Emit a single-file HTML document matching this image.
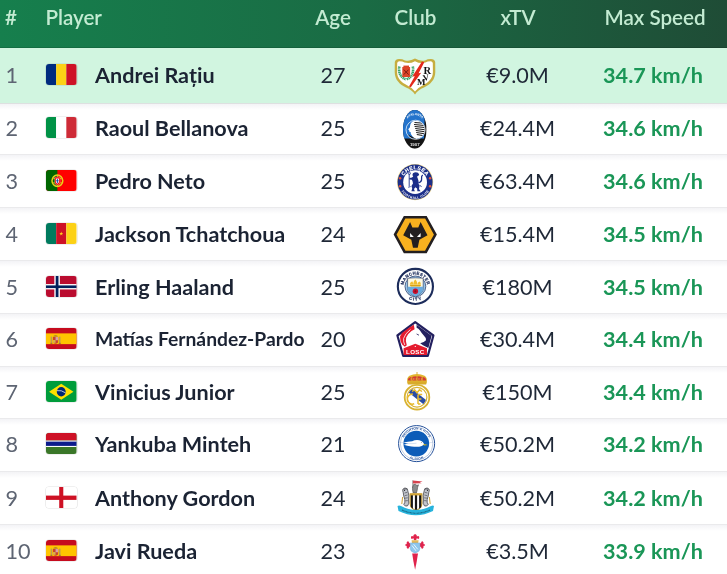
<!DOCTYPE html><html><head><meta charset="utf-8"><style>html,body{margin:0;padding:0;}
body{width:727px;height:574px;overflow:hidden;background:#fff;position:relative;font-family:"Lato","Liberation Sans",sans-serif;}
.hdr{position:absolute;left:0;top:0;width:727px;height:48px;background:linear-gradient(90deg,#167f4d 0%,#1a6b44 50%,#1f4c36 100%);box-shadow:inset 0 -1px 0 rgba(0,0,0,.12);}
.h{position:absolute;top:-0.8px;line-height:36px;font-size:20.6px;font-weight:600;color:#c3ebd2;white-space:nowrap;}
.h-rank{left:5px;}
.h-player{left:45.4px;}
.h-age{left:333px;transform:translateX(-50%);}
.h-club{left:415.5px;transform:translateX(-50%);}
.h-xtv{left:518px;transform:translateX(-50%);}
.h-speed{left:655px;transform:translateX(-50%);}
.row{position:absolute;left:0;width:727px;height:54px;}
.hlbg{position:absolute;left:0;top:48px;width:727px;height:55px;background:#d1f5e0;}
.c{position:absolute;top:0;line-height:54px;font-size:21.6px;white-space:nowrap;color:#1f2837;}
.rank{left:5.5px;color:#5e6573;}
.name{left:95px;font-weight:700;color:#1b2333;}
.name.small{font-size:19.3px;}
.age{left:333px;transform:translateX(-50%);}
.xtv{left:517.5px;transform:translateX(-50%);}
.speed{left:653px;transform:translateX(-50%);font-weight:700;color:#1a9657;}
.flag{position:absolute;left:46px;top:15.5px;width:30.5px;height:21.5px;border-radius:3px;overflow:hidden;box-shadow:0 0 0 0.6px rgba(0,0,0,.12);}
.flag svg{display:block;width:100%;height:100%;}
.logo{position:absolute;left:392px;top:5px;width:46px;height:44px;}
.logo svg{display:block;width:100%;height:100%;}
.sep{position:absolute;left:0;width:727px;height:1px;background:rgba(30,35,50,.095);}
.sepf{position:absolute;left:0;width:727px;height:6px;background:linear-gradient(rgba(40,40,90,.055),rgba(40,40,90,0));}
.lg{position:absolute;overflow:visible;}
.sep.s1{background:rgba(30,45,50,.15);}
#wrap{will-change:transform;position:absolute;left:0;top:0;width:727px;height:574px;overflow:hidden;background:#fff;}
</style></head><body><div id="wrap">
<div class="hlbg"></div>
<div class="hdr"><span class="h h-rank">#</span><span class="h h-player">Player</span><span class="h h-age">Age</span><span class="h h-club">Club</span><span class="h h-xtv">xTV</span><span class="h h-speed">Max Speed</span></div>
<div class="row hl" style="top:48.20px">
<span class="c rank">1</span>
<span class="flag"><svg viewBox="0 0 3 2" preserveAspectRatio="none"><rect width="1" height="2" fill="#002b7f"/><rect x="1" width="1" height="2" fill="#fcd116"/><rect x="2" width="1" height="2" fill="#ce1126"/></svg></span>
<span class="c name">Andrei Rațiu</span>
<span class="c age">27</span>
<span class="c xtv">€9.0M</span>
<span class="c speed">34.7 km/h</span>
</div>
<div class="sep s1" style="top:103px"></div><div class="sepf" style="top:104px"></div>
<div class="row" style="top:101.20px">
<span class="c rank">2</span>
<span class="flag"><svg viewBox="0 0 3 2" preserveAspectRatio="none"><rect width="1" height="2" fill="#009246"/><rect x="1" width="1" height="2" fill="#fff"/><rect x="2" width="1" height="2" fill="#ce2b37"/></svg></span>
<span class="c name">Raoul Bellanova</span>
<span class="c age">25</span>
<span class="c xtv">€24.4M</span>
<span class="c speed">34.6 km/h</span>
</div>
<div class="sep" style="top:154px"></div><div class="sepf" style="top:155px"></div>
<div class="row" style="top:154.20px">
<span class="c rank">3</span>
<span class="flag"><svg viewBox="0 0 30 20" preserveAspectRatio="none"><rect width="30" height="20" fill="#f00"/><rect width="11.2" height="20" fill="#060"/><circle cx="11.2" cy="10" r="5.3" fill="none" stroke="#e8d21a" stroke-width="1.5"/><path d="M6,8.4 Q11.2,6.4 16.4,8.4 M6,11.6 Q11.2,13.6 16.4,11.6 M11.2,4.7 L11.2,15.3" stroke="#e8d21a" stroke-width=".7" fill="none"/><path d="M8.6,6.6 L13.8,6.6 L13.8,11.2 Q13.8,13.8 11.2,14 Q8.6,13.8 8.6,11.2Z" fill="#e00" stroke="#fff" stroke-width=".3"/><path d="M9.7,7.8 L12.7,7.8 L12.7,11 Q12.7,12.6 11.2,12.8 Q9.7,12.6 9.7,11Z" fill="#fff"/><path d="M11.2,8.3 L11.2,12.2 M10,10 L12.4,10" stroke="#1a3fa8" stroke-width=".9"/></svg></span>
<span class="c name">Pedro Neto</span>
<span class="c age">25</span>
<span class="c xtv">€63.4M</span>
<span class="c speed">34.6 km/h</span>
</div>
<div class="sep" style="top:207px"></div><div class="sepf" style="top:208px"></div>
<div class="row" style="top:207.00px">
<span class="c rank">4</span>
<span class="flag"><svg viewBox="0 0 3 2" preserveAspectRatio="none"><rect width="1" height="2" fill="#007a5e"/><rect x="1" width="1" height="2" fill="#ce1126"/><rect x="2" width="1" height="2" fill="#fcd116"/><path d="M1.5,.8 L1.547,.935 L1.69,.938 L1.576,1.024 L1.618,1.162 L1.5,1.08 L1.382,1.162 L1.424,1.024 L1.31,.938 L1.453,.935Z" fill="#fcd116"/></svg></span>
<span class="c name">Jackson Tchatchoua</span>
<span class="c age">24</span>
<span class="c xtv">€15.4M</span>
<span class="c speed">34.5 km/h</span>
</div>
<div class="sep" style="top:260px"></div><div class="sepf" style="top:261px"></div>
<div class="row" style="top:260.30px">
<span class="c rank">5</span>
<span class="flag"><svg viewBox="0 0 22 16" preserveAspectRatio="none"><rect width="22" height="16" fill="#ba0c2f"/><rect x="6" width="4" height="16" fill="#fff"/><rect y="6" width="22" height="4" fill="#fff"/><rect x="7" width="2" height="16" fill="#00205b"/><rect y="7" width="22" height="2" fill="#00205b"/></svg></span>
<span class="c name">Erling Haaland</span>
<span class="c age">25</span>
<span class="c xtv">€180M</span>
<span class="c speed">34.5 km/h</span>
</div>
<div class="sep" style="top:313px"></div><div class="sepf" style="top:314px"></div>
<div class="row" style="top:312.40px">
<span class="c rank">6</span>
<span class="flag"><svg viewBox="0 0 30 20" preserveAspectRatio="none"><rect width="30" height="20" fill="#c60b1e"/><rect y="5" width="30" height="10" fill="#ffc400"/><path d="M7.2,7.4 Q9.4,5.6 11.6,7.4 L11.4,8.2 L7.4,8.2Z" fill="#b88a2a"/><path d="M6.8,8.4 L12,8.4 L12,12.2 Q12,14.6 9.4,14.6 Q6.8,14.6 6.8,12.2Z" fill="#c8452e"/><rect x="9.4" y="8.4" width="2.6" height="3" fill="#d9a0a8"/><rect x="6.8" y="11.2" width="2.6" height="2.6" fill="#d8b24a"/><rect x="4.6" y="8" width="1.4" height="6.4" fill="#b89a5a"/><rect x="12.8" y="8" width="1.4" height="6.4" fill="#b89a5a"/><rect x="4.3" y="13.8" width="2" height="0.9" fill="#9a6a2a"/><rect x="12.5" y="13.8" width="2" height="0.9" fill="#9a6a2a"/></svg></span>
<span class="c name small">Matías Fernández-Pardo</span>
<span class="c age">20</span>
<span class="c xtv">€30.4M</span>
<span class="c speed">34.4 km/h</span>
</div>
<div class="sep" style="top:366px"></div><div class="sepf" style="top:367px"></div>
<div class="row" style="top:365.30px">
<span class="c rank">7</span>
<span class="flag"><svg viewBox="0 0 30 20" preserveAspectRatio="none"><rect width="30" height="20" fill="#009c3b"/><path d="M15 2.5 L27 10 L15 17.5 L3 10Z" fill="#ffdf00"/><circle cx="15" cy="10" r="4.4" fill="#002776"/><path d="M10.8,9 Q15,8.2 19.2,11" stroke="#fff" stroke-width=".7" fill="none"/></svg></span>
<span class="c name">Vinicius Junior</span>
<span class="c age">25</span>
<span class="c xtv">€150M</span>
<span class="c speed">34.4 km/h</span>
</div>
<div class="sep" style="top:418px"></div><div class="sepf" style="top:419px"></div>
<div class="row" style="top:417.30px">
<span class="c rank">8</span>
<span class="flag"><svg viewBox="0 0 30 20" preserveAspectRatio="none"><rect width="30" height="20" fill="#3a7728"/><rect width="30" height="7" fill="#ce1126"/><rect y="7" width="30" height="6" fill="#fff"/><rect y="8" width="30" height="4" fill="#0c1c8c"/></svg></span>
<span class="c name">Yankuba Minteh</span>
<span class="c age">21</span>
<span class="c xtv">€50.2M</span>
<span class="c speed">34.2 km/h</span>
</div>
<div class="sep" style="top:471px"></div><div class="sepf" style="top:472px"></div>
<div class="row" style="top:471.20px">
<span class="c rank">9</span>
<span class="flag"><svg viewBox="0 0 30 20" preserveAspectRatio="none"><rect width="30" height="20" fill="#fff"/><rect x="13" width="4" height="20" fill="#ce1124"/><rect y="8" width="30" height="4" fill="#ce1124"/></svg></span>
<span class="c name">Anthony Gordon</span>
<span class="c age">24</span>
<span class="c xtv">€50.2M</span>
<span class="c speed">34.2 km/h</span>
</div>
<div class="sep" style="top:524px"></div><div class="sepf" style="top:525px"></div>
<div class="row" style="top:524.20px">
<span class="c rank">10</span>
<span class="flag"><svg viewBox="0 0 30 20" preserveAspectRatio="none"><rect width="30" height="20" fill="#c60b1e"/><rect y="5" width="30" height="10" fill="#ffc400"/><path d="M7.2,7.4 Q9.4,5.6 11.6,7.4 L11.4,8.2 L7.4,8.2Z" fill="#b88a2a"/><path d="M6.8,8.4 L12,8.4 L12,12.2 Q12,14.6 9.4,14.6 Q6.8,14.6 6.8,12.2Z" fill="#c8452e"/><rect x="9.4" y="8.4" width="2.6" height="3" fill="#d9a0a8"/><rect x="6.8" y="11.2" width="2.6" height="2.6" fill="#d8b24a"/><rect x="4.6" y="8" width="1.4" height="6.4" fill="#b89a5a"/><rect x="12.8" y="8" width="1.4" height="6.4" fill="#b89a5a"/><rect x="4.3" y="13.8" width="2" height="0.9" fill="#9a6a2a"/><rect x="12.5" y="13.8" width="2" height="0.9" fill="#9a6a2a"/></svg></span>
<span class="c name">Javi Rueda</span>
<span class="c age">23</span>
<span class="c xtv">€3.5M</span>
<span class="c speed">33.9 km/h</span>
</div>
<svg class="lg" style="left:394.0px;top:58.3px;width:42.0px;height:36.6px" viewBox="0 0 42.0 36.6">
<path d="M0.8,4 Q1.5,1.2 5,1 Q8.5,1 11,2.4 Q16,3.6 21,0.6 Q26,3.6 31,2.4 Q33.5,1 37,1 Q40.5,1.2 41.2,4 L41.3,14 C41.3,22 36,26.5 30,29.5 Q24,32 21,36.4 Q18,32 12,29.5 C6,26.5 0.7,22 0.7,14Z" fill="#c6ae40"/>
<path d="M3.2,5 Q3.6,3.4 5.4,3.3 Q8.5,3.3 10.6,4.6 Q16,6 21,3.2 Q26,6 31.4,4.6 Q33.5,3.3 36.6,3.3 Q38.4,3.4 38.8,5 L38.9,14 C38.9,20.5 34.5,24.5 29,27.2 Q23.6,29.8 21,33.4 Q18.4,29.8 13,27.2 C7.5,24.5 3.1,20.5 3.1,14Z" fill="#fff"/>
<path d="M5.4,8.5 C4.2,14.5 6.5,19.5 12.2,21.4 M18.8,8.5 C20,14.5 17.7,19.5 12.4,21.4" stroke="#3aa36a" stroke-width="2.6" fill="none" stroke-dasharray="1.3 0.45"/>
<rect x="8.3" y="9" width="7.8" height="10" fill="#dc4428"/>
<rect x="9.4" y="7.6" width="5.6" height="1.8" fill="#dc4428"/>
<path d="M9.8,11.6 L14.6,16.6 M14.6,11.6 L9.8,16.6" stroke="#6e1a10" stroke-width="0.9"/>
<path d="M28,3.6 L30.3,4.2 L24.6,15.2 L27.2,14.8 L16.8,29.2 L15,28.6 L20.8,18.2 L18.3,18.6Z" fill="#e4281c"/>
<text x="29.4" y="15.6" font-family="Liberation Serif,serif" font-weight="700" font-size="10.5" fill="#111">R</text>
<text x="28.6" y="22.6" font-family="Liberation Serif,serif" font-weight="700" font-size="8.6" fill="#111" transform="rotate(-12 31.5 19)">V</text>
<text x="23" y="27.4" font-family="Liberation Serif,serif" font-weight="700" font-size="9" fill="#111">M</text>
</svg>
<svg class="lg" style="left:403.0px;top:110.2px;width:23.6px;height:38.8px" viewBox="0 0 23.6 38.8">
<defs><clipPath id="atc"><ellipse cx="11.8" cy="19.4" rx="11.8" ry="19.4"/></clipPath><clipPath id="atc2"><circle cx="12.6" cy="19.8" r="9.2"/></clipPath>
<path id="attx" d="M3.2,12 A9.2,9.8 0 0 1 20.8,12"/></defs>
<g clip-path="url(#atc)">
<rect width="23.6" height="38.8" fill="#141414"/>
<path d="M0,0 L21,0 Q22.6,4 21.6,10 L21,28.4 L0,28.4Z" fill="#2474cc"/>
</g>
<text font-family="Liberation Sans,sans-serif" font-weight="700" font-size="3.1" fill="#fff"><textPath href="#attx" startOffset="50%" text-anchor="middle">ATALANTA</textPath></text>
<g clip-path="url(#atc2)">
<rect x="0" y="8" width="25" height="24" fill="#2474cc"/>
<path d="M9.2,11.6 Q14,9.5 19.5,11 L23,15 L23,31 L12,31 Q11.6,28.5 9.6,26.5 L8.2,24.6 Q7.4,23.4 8,22.4 L6.4,21.8 L6.2,20.6 L5.2,19.2 L6.8,17.4 Q6.8,14 9.2,11.6Z" fill="#fff"/>
<path d="M11.5,12.6 L21,13.2 M11,14.6 L21.6,15.4 M11.6,16.6 L22,17.6 M12.2,18.6 L22,19.8 M12.8,20.6 L22,21.8 M13.2,22.6 L21.6,23.8 M13.8,24.6 L21,25.8" stroke="#1b1b1b" stroke-width="1.05"/>
<path d="M4,24 Q9,26.8 16,30.4 L4,31Z" fill="#141414"/>
</g>
<circle cx="12.6" cy="19.8" r="9.6" fill="none" stroke="#fff" stroke-width="0.7"/>
<text x="11.8" y="35.6" text-anchor="middle" font-family="Liberation Sans,sans-serif" font-weight="700" font-size="4.4" fill="#e8e8e8">1907</text>
</svg>
<svg class="lg" style="left:396.5px;top:163.7px;width:36.2px;height:36.2px" viewBox="0 0 36.2 36.2">
<circle cx="18.1" cy="18.1" r="18.1" fill="#efd98e"/>
<circle cx="18.1" cy="18.1" r="17.5" fill="#1c2f89"/>
<circle cx="18.1" cy="18.2" r="11.9" fill="#fff"/>
<defs><path id="chtop" d="M5.4,18.1 A12.7,12.7 0 0 1 30.8,18.1"/><path id="chbot" d="M4.6,19 A13.5,13.5 0 0 0 31.6,19"/></defs>
<text font-family="Liberation Sans,sans-serif" font-weight="700" font-size="5.2" fill="#fff" stroke="#fff" stroke-width="0.15" letter-spacing="0.35"><textPath href="#chtop" startOffset="50%" text-anchor="middle">CHELSEA</textPath></text>
<text font-family="Liberation Sans,sans-serif" font-weight="700" font-size="3.3" fill="#fff"><textPath href="#chbot" startOffset="50%" text-anchor="middle" dominant-baseline="hanging">FOOTBALL CLUB</textPath></text>
<circle cx="3.1" cy="14.2" r="1.25" fill="#e2583f"/><circle cx="3.1" cy="22.2" r="1.25" fill="#e2583f"/>
<circle cx="33.1" cy="14.2" r="1.25" fill="#e2583f"/><circle cx="33.1" cy="22.2" r="1.25" fill="#e2583f"/>
<path d="M12.2,9.6 L12.2,22" stroke="#1c2f89" stroke-width="0.9"/>
<circle cx="12.4" cy="9.4" r="1.1" fill="none" stroke="#1c2f89" stroke-width="0.7"/>
<path d="M16,9.2 Q18.5,7.6 21,8.8 L22.2,10.4 L21.2,12 L20,12.4 L20.8,14.5 Q22,17 21.5,19.5 L22.5,22 L22,25 L23.6,27.3 L20.4,27.3 L20.1,24.6 L18.4,23.2 L17,25 L17.8,27.3 L14.4,27.3 L15.2,24.5 L14.4,22 L16,19.5 L15.5,17 L14.8,15.8 L12.4,15.6 L12.4,14.1 L15,13.6 L16.2,12.4 L15.4,11Z" fill="#1c2f89"/>
<path d="M21.4,18.8 Q25,18 24.6,14.2 Q24.2,11.8 25.8,11" stroke="#1c2f89" stroke-width="1.3" fill="none"/>
<path d="M13.6,22.6 L11.2,23.2 M22.4,21.2 L24.6,22.6" stroke="#1c2f89" stroke-width="0.9"/>
</svg>
<svg class="lg" style="left:393.7px;top:215.9px;width:42.5px;height:37.2px" viewBox="0 0 42.5 37.2">
<path d="M10.6,1.2 L31.9,1.2 L41.4,18.6 L31.9,36 L10.6,36 L1.1,18.6Z" fill="#f8b11f" stroke="#231f20" stroke-width="2.6" stroke-linejoin="miter"/>
<path d="M16.1,6.1 L18.4,11.6 L24.3,11.6 L26.6,6.1 L33.5,19.2 L25.4,23.8 L23.7,31.8 L19.0,31.8 L17.3,23.8 L9.2,19.2Z" fill="#231f20"/>
<path d="M16.0,16.9 L16.2,20.9 L19.8,20.9Z" fill="#fff"/>
<path d="M26.7,16.9 L26.5,20.9 L22.9,20.9Z" fill="#fff"/>
</svg>
<svg class="lg" style="left:396.8px;top:267.6px;width:36.8px;height:36.8px" viewBox="0 0 36.8 36.8">
<circle cx="18.4" cy="18.4" r="17.55" fill="#fff" stroke="#1c2c5b" stroke-width="2.1"/>
<circle cx="18.4" cy="18.4" r="10.4" fill="#9cc8ea" stroke="#1c2c5b" stroke-width="0.7"/>
<defs><path id="mctop" d="M6.7,18.4 A11.7,11.7 0 0 1 30.1,18.4"/><path id="mcbot" d="M7.2,18.4 A11.2,11.2 0 0 0 29.6,18.4"/></defs>
<text font-family="Liberation Sans,sans-serif" font-weight="700" font-size="4.3" fill="#1c2c5b" stroke="#1c2c5b" stroke-width="0.2" letter-spacing="0.35"><textPath href="#mctop" startOffset="50%" text-anchor="middle">MANCHESTER</textPath></text>
<text font-family="Liberation Sans,sans-serif" font-weight="700" font-size="4.3" fill="#1c2c5b" stroke="#1c2c5b" stroke-width="0.2" letter-spacing="0.4"><textPath href="#mcbot" startOffset="50%" text-anchor="middle" dominant-baseline="hanging">CITY</textPath></text>
<path d="M10.6,10.2 Q18.4,9.4 26.2,10.2 L26.2,20.5 Q26.2,25.5 18.4,28.4 Q10.6,25.5 10.6,20.5Z" fill="#fdfae6" stroke="#1c2c5b" stroke-width="0.6"/>
<path d="M10.6,18.8 L26.2,18.8 L26.2,20.5 Q26.2,25.5 18.4,28.4 Q10.6,25.5 10.6,20.5Z" fill="#6cabdd"/>
<path d="M12.6,17 L24.2,17 L23,18.4 L13.8,18.4Z" fill="#d9a514"/>
<path d="M12.8,16.8 Q12.6,14.2 15.2,13.2 Q16.2,14.6 16.4,16.8Z M16.4,16.8 Q16.2,12.6 18.6,11.4 Q20.2,13 20.2,16.8Z M20.2,16.8 Q20.4,14 22.8,13.6 Q24,15 23.8,16.8Z" fill="#f0bd30"/>
<circle cx="18.4" cy="23.2" r="2.7" fill="#c8102e"/>
<circle cx="18.4" cy="23.2" r="1" fill="#8a0b1e"/>
</svg>
<svg class="lg" style="left:396.1px;top:321.1px;width:38.8px;height:36.6px" viewBox="0 0 38.8 36.6">
<path d="M19.2,1.2 L37.4,14.5 L31.8,35 L7.2,35 L1.4,14.5Z" fill="#fff" stroke="#23205f" stroke-width="2.2" stroke-linejoin="round"/>
<path d="M17.8,3.8 Q12,7 6,12 L4,15.5 Q3.8,20 6.2,23.5 L8.8,25.8 L10.8,24.2 Q9.2,20.5 10.2,16.5 Q12,12.5 15.5,10 L18.6,8.2Z" fill="#e41b2e"/>
<path d="M14.5,8.5 Q9,12.5 7.6,17.5 Q7.2,21 8.8,24" stroke="#fff" stroke-width="0.8" fill="none"/>
<path d="M20.6,3.8 L35.6,14.8 L32.4,27 L27,24.2 L24.2,22.2 Q27.6,21.8 30,19.2 Q30,16.5 27.8,14.6 Q25.5,12 24,9.5 Q22.5,7.5 20.6,6.8Z" fill="#23205f"/>
<path d="M20.6,13 L23,14.2" stroke="#23205f" stroke-width="0.8"/>
<path d="M7.6,27.2 L19.3,22.8 L31,27.2 L31,34 L7.6,34Z" fill="#e41b2e"/>
<circle cx="19.3" cy="25.4" r="0.6" fill="#fff"/>
<text x="19.3" y="32.9" text-anchor="middle" font-family="Liberation Sans,sans-serif" font-weight="700" font-size="6.2" fill="#fff" letter-spacing="0.3">LOSC</text>
</svg>
<svg class="lg" style="left:403.0px;top:372.4px;width:28.0px;height:38.0px" viewBox="0 0 28.0 38.0">
<path d="M14,0 L14,2.2" stroke="#d4a32a" stroke-width="0.9"/>
<path d="M4.6,11.6 Q3,6 6.5,3.8 Q10,2 14,2 Q18,2 21.5,3.8 Q25,6 23.4,11.6Z" fill="#e2b52e"/>
<path d="M5,8.6 Q4.6,6 7.4,5.2 Q11,4.3 14,4.3 Q17,4.3 20.6,5.2 Q23.4,6 23,8.6Z" fill="#d23a34"/>
<path d="M7.5,7 L20.5,7" stroke="#f2c94a" stroke-width="1" stroke-dasharray="1.3 1.3"/>
<path d="M14,2.2 L14,9 M9,3.5 Q8.5,6 9,9 M19,3.5 Q19.5,6 19,9" stroke="#e2b52e" stroke-width="0.9" fill="none"/>
<path d="M4.4,9.6 L23.6,9.6 L23.2,12.4 L4.8,12.4Z" fill="#d9ab2a"/>
<circle cx="14" cy="25.2" r="12.9" fill="#fff"/>
<circle cx="14" cy="25.2" r="12.3" fill="none" stroke="#d8b232" stroke-width="1.8"/>
<circle cx="14" cy="25.2" r="9.9" fill="none" stroke="#d8b232" stroke-width="1.2"/>
<defs><clipPath id="rmc"><circle cx="14" cy="25.2" r="9.3"/></clipPath></defs>
<g clip-path="url(#rmc)"><path d="M3,18.5 L6.6,15 L27,31 L23.4,34.5Z" fill="#2a4ca4"/></g>
<path d="M9,19.5 L11.5,17.8 L14,20.8 L16.5,17.8 L19,19.5" stroke="#e8b92c" stroke-width="1.4" fill="none"/>
<path d="M9.8,22.2 A5,5 0 1 0 11.2,31.8" stroke="#e8b92c" stroke-width="1.6" fill="none"/>
<path d="M15,22.5 L15,32 M15,22.5 L19.2,22.5 M15,27 L18.4,27 M15,32 L17.5,32" stroke="#e8b92c" stroke-width="1.5" fill="none"/>
</svg>
<svg class="lg" style="left:397.8px;top:425.2px;width:37.2px;height:37.2px" viewBox="0 0 37.2 37.2">
<circle cx="18.6" cy="18.6" r="18.05" fill="#fff" stroke="#24509a" stroke-width="1"/>
<circle cx="18.6" cy="18.6" r="16.3" fill="none" stroke="#24509a" stroke-width="0.3"/>
<circle cx="18.3" cy="18.6" r="12.85" fill="#0d5cb8"/>
<defs><path id="bhtop" d="M4.6,18.6 A14,14 0 0 1 32.6,18.6"/><path id="bhbot" d="M4.8,18.6 A13.8,13.8 0 0 0 32.4,18.6"/></defs>
<text font-family="Liberation Sans,sans-serif" font-weight="700" font-size="3.2" fill="#24509a" letter-spacing="0.12"><textPath href="#bhtop" startOffset="50%" text-anchor="middle">BRIGHTON &amp; HOVE</textPath></text>
<text font-family="Liberation Sans,sans-serif" font-weight="700" font-size="3.2" fill="#24509a" letter-spacing="0.12"><textPath href="#bhbot" startOffset="50%" text-anchor="middle" dominant-baseline="hanging">ALBION</textPath></text>
<path d="M1.8,17.6 L5.6,17.6 M31.2,17.6 L35.4,17.6" stroke="#9fb6d8" stroke-width="0.4"/>
<path d="M5.5,17.4 Q10,16.6 14.2,16.2 Q16.5,15 19.1,15 Q21.5,15 23.3,15.9 Q25,16.8 25.7,18.3 L26.1,19.6 Q24,21.6 21.2,21.8 Q17,22 13.5,21.4 Q9,20.8 5.9,19.7 Q8.5,19 10.5,18.8 Q8,18.2 5.5,17.4Z" fill="#fff"/>
<path d="M9,18.6 Q14,18.9 18.5,18.2" stroke="#7fa6d9" stroke-width="0.35" fill="none"/>
<path d="M25.5,18.9 L30,20 L25.9,20.6Z" fill="#f2c500"/>
<circle cx="23.4" cy="17.4" r="0.4" fill="#333"/>
</svg>
<svg class="lg" style="left:397.0px;top:479.5px;width:37.0px;height:37.0px" viewBox="0 0 37.0 37.0">
<path d="M15.7,0.3 L15.7,8" stroke="#666" stroke-width="0.6"/>
<path d="M15.9,0.4 L25.6,1.6 L22.6,2.4 L24.8,3.2 L15.9,3.6Z" fill="#d6434e"/>
<path d="M16.6,4.5 Q19,3.6 19.8,5.4 L21.5,4.8 L20.6,7.5 Q20.4,10.5 19.4,13 L16.2,13 Q15.2,10 15.6,7Z" fill="#8b8b8b" stroke="#333" stroke-width="0.5"/>
<path d="M12.6,13.2 L25.4,13.2 L25.4,23.5 Q25.4,28.6 19,31 Q12.6,28.6 12.6,23.5Z" fill="#cfa235"/>
<path d="M13.8,14.4 L24.2,14.4 L24.2,23.4 Q24.2,27.8 19,29.8 Q13.8,27.8 13.8,23.4Z" fill="#fff"/>
<path d="M13.8,14.4 h2.1 v14.4 l-2.1,-1.8Z M17.9,14.4 h2.2 v15.4 h-2.2Z M22.1,14.4 h2.1 v12.8 l-2.1,1.6Z" fill="#151515"/>
<path d="M13.4,13.6 L24.6,13.6 L24.6,15.4 L13.4,15.4Z" fill="#cfa235"/>
<path d="M6.2,12.4 Q4.6,8.6 8,8 Q11,8 10.8,10.8 Q12.4,15 11.6,20 Q12.6,23.5 10.6,25.8 Q8.2,27 6.8,24.4 Q8.4,22.6 7.8,19.6 Q6.6,16 6.2,12.4Z" fill="#c2c5cc" stroke="#2f2f35" stroke-width="0.7"/>
<path d="M31.8,12.4 Q33.4,8.6 30,8 Q27,8 27.2,10.8 Q25.6,15 26.4,20 Q25.4,23.5 27.4,25.8 Q29.8,27 31.2,24.4 Q29.6,22.6 30.2,19.6 Q31.4,16 31.8,12.4Z" fill="#c2c5cc" stroke="#2f2f35" stroke-width="0.7"/>
<path d="M4.8,24 L5.6,17 M33.2,24 L32.4,17" stroke="#cfa235" stroke-width="1"/>
<path d="M6.4,9.6 Q8,8.4 9.8,9.4 M7.6,13 L10.2,12.4 M7.8,15.6 L10.6,15 M8,18.2 L10.8,17.8 M8.4,20.8 L10.8,20.6 M31.6,9.6 Q30,8.4 28.2,9.4 M30.4,13 L27.8,12.4 M30.2,15.6 L27.4,15 M30,18.2 L27.2,17.8 M29.6,20.8 L27.2,20.6" stroke="#2f2f35" stroke-width="0.55" fill="none"/>
<circle cx="7.6" cy="10.4" r="0.55" fill="#222"/><circle cx="30.4" cy="10.4" r="0.55" fill="#222"/>
<path d="M0.5,26 Q2,24.8 4,26 Q19,34 34,26 Q36,24.8 37,26 L36,31 Q19,39.5 1.5,31Z" fill="#27b3dc"/>
<path d="M5,30 Q19,36.5 33,30" stroke="#18607e" stroke-width="1.1" fill="none" stroke-dasharray="0.9 0.5"/>
</svg>
<svg class="lg" style="left:404.9px;top:533.5px;width:20.2px;height:36.0px" viewBox="0 0 20.2 36.0">
<path d="M10.1,0 Q12.2,0.6 11.9,2.6 Q13.4,1.4 14.2,2.8 Q14.8,4.6 13,5.2 Q12.6,4 11.6,4.4 L11.2,6.2 L9,6.2 L8.6,4.4 Q7.6,4 7.2,5.2 Q5.4,4.6 6,2.8 Q6.8,1.4 8.3,2.6 Q8,0.6 10.1,0Z" fill="#e0234c"/>
<path d="M0.2,11 Q0.6,9.8 1.8,10.2 Q1,8.4 2.4,7.4 Q3.6,7 4,8.6 L5.6,10 L5.6,12 L4,13.4 Q3.6,15 2.4,14.6 Q1,13.6 1.8,11.8 Q0.6,12.2 0.2,11Z" fill="#e0234c"/>
<path d="M20,11 Q19.6,9.8 18.4,10.2 Q19.2,8.4 17.8,7.4 Q16.6,7 16.2,8.6 L14.6,10 L14.6,12 L16.2,13.4 Q16.6,15 17.8,14.6 Q19.2,13.6 18.4,11.8 Q19.6,12.2 20,11Z" fill="#e0234c"/>
<path d="M6.6,6.2 L13.6,6.2 L13.2,8.9 L7,8.9Z" fill="#e3b85a"/>
<path d="M5.3,8.9 L14.9,8.9 L14.9,14.8 Q14.9,17.8 10.1,19.2 Q5.3,17.8 5.3,14.8Z" fill="#8ec7ec" stroke="#6aa5d4" stroke-width="0.4"/>
<path d="M7,11.5 L11,16.8 M8.6,10.2 L12.8,15.4" stroke="#fff" stroke-width="0.8"/>
<path d="M7.2,19.4 L13,19.4 Q11.8,28 10.1,35.8 Q8.4,28 7.2,19.4Z" fill="#e0234c"/>
</svg>
</div></body></html>
